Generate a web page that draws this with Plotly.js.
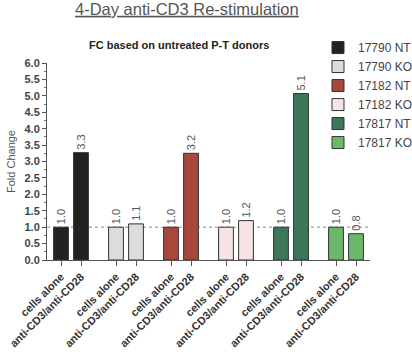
<!DOCTYPE html>
<html><head><meta charset="utf-8">
<script src="https://cdn.plot.ly/plotly-3.0.1.min.js"></script>
<style>body{margin:0;background:#fff}#c{width:412px;height:359px}</style>
</head><body><div id="c"></div>
<script>
const groups = ["17790 NT","17790 KO","17182 NT","17182 KO","17817 NT","17817 KO"];
const conditions = ["cells alone","anti-CD3/anti-CD28"];
const values = [[1.0,3.27],[1.0,1.1],[1.0,3.25],[1.0,1.2],[1.0,5.07],[1.0,0.8]];
const valueLabels = [["1.0","3.3"],["1.0","1.1"],["1.0","3.2"],["1.0","1.2"],["1.0","5.1"],["1.0","0.8"]];
const colors = ["#222222","#dcdcdc","#a8473c","#f7e3e3","#3b7758","#6cb86a"];
const yTicks = ["0.0","0.5","1.0","1.5","2.0","2.5","3.0","3.5","4.0","4.5","5.0","5.5","6.0"];

const groupStep = 2.75;
const traces = groups.map((g,gi)=>({
  type:'bar', name:g,
  x: conditions.map((c,ci)=>gi*groupStep+ci),
  y: values[gi],
  text: valueLabels[gi],
  textposition:'outside', textangle:-90, cliponaxis:false, constraintext:'none',
  textfont:{family:'Liberation Sans, Arial', size:11, color:'#555'},
  marker:{color:colors[gi], line:{color:'#333', width:1}},
  width:0.74
}));
const tickvals=[], ticktext=[];
groups.forEach((g,gi)=>conditions.forEach((c,ci)=>{tickvals.push(gi*groupStep+ci);ticktext.push(c);}));

const layout = {
  width:412, height:359,
  margin:{l:47,r:42,t:63,b:99,autoexpand:false},
  paper_bgcolor:'#fff', plot_bgcolor:'#fff',
  font:{family:'Liberation Sans, Arial', color:'#333'},
  showlegend:true,
  legend:{x:0.839, y:1.152, xanchor:'left', yanchor:'top', font:{size:12, color:'#444'}, tracegroupgap:0, itemwidth:30, bgcolor:'rgba(0,0,0,0)'},
  bargap:0,
  title:{text:'<u>4-Day anti-CD3 Re-stimulation</u>', x:0.433, xref:'paper', xanchor:'center', y:0.975, yanchor:'middle', font:{size:16.5, color:'#555'}},
  xaxis:{range:[-0.7,15.45], tickvals:tickvals, ticktext:ticktext, tickangle:-45,
    tickfont:{size:11, color:'#333', family:'Liberation Sans, Arial', weight:'bold'},
    showline:true, linecolor:'#555', linewidth:1, ticks:'outside', ticklen:5, tickcolor:'#555',
    showgrid:false, zeroline:false, fixedrange:true},
  yaxis:{range:[0,6], tickvals:yTicks.map(Number), ticktext:yTicks,
    tickfont:{size:11, color:'#444', weight:'bold'},
    showline:true, linecolor:'#555', linewidth:1, ticks:'outside', ticklen:4, tickcolor:'#555',
    minor:{dtick:0.25, ticks:'outside', ticklen:2, tickcolor:'#777'},
    showgrid:false, zeroline:false,
    title:{text:'Fold Change', font:{size:11, color:'#555'}, standoff:6}},
  shapes:[{type:'line', xref:'paper', x0:0, x1:1, yref:'y', y0:1, y1:1, line:{color:'#888', width:1, dash:'dot'}, layer:'below'}],
  annotations:[{text:'<b>FC based on untreated P-T donors</b>', xref:'paper', yref:'paper', x:0.41, y:1.09, xanchor:'center', yanchor:'middle', showarrow:false, font:{size:11, color:'#222'}}]
};
Plotly.newPlot('c', traces, layout, {displayModeBar:false, staticPlot:true});
</script></body></html>
